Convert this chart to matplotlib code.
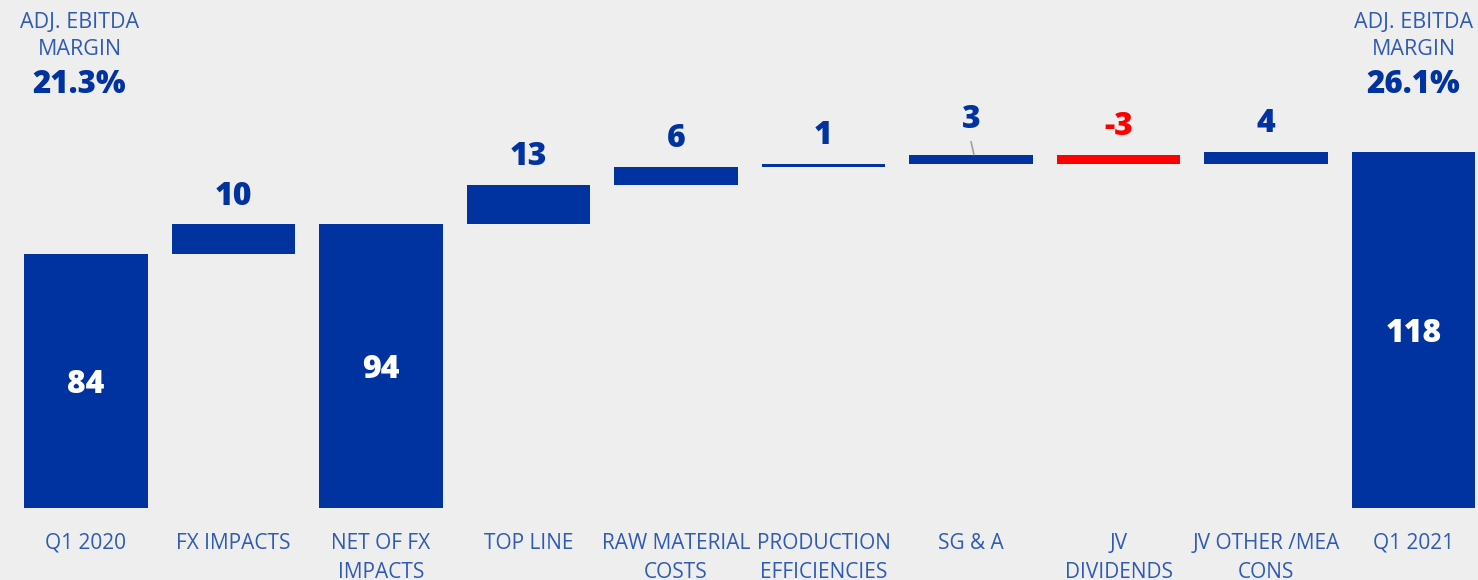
import numpy as np
import matplotlib.pyplot as plt

plt.rcParams['font.family'] = ['Open Sans', 'DejaVu Sans']

categories = ['Q1 2020', 'FX IMPACTS', 'NET OF FX\nIMPACTS', 'TOP LINE', 'RAW MATERIAL\nCOSTS',
              'PRODUCTION\nEFFICIENCIES', 'SG & A', 'JV\nDIVIDENDS', 'JV OTHER /MEA\nCONS', 'Q1 2021']
values = [84, 10, 94, 13, 6, 1, 3, -3, 4, 118]
is_total = [True, False, True, False, False, False, False, False, False, True]
margin_labels = ['21.3%', '26.1%']

BLUE = '#0033A0'
TEXT_BLUE = '#2F5BB3'
RED = '#FF0000'
BG = '#EEEEEE'

fig = plt.figure(figsize=(14.78, 5.8), dpi=100, facecolor=BG)
ax = fig.add_axes([0, 0, 1, 1])
ax.set_facecolor(BG)
ax.set_xlim(-0.583, 9.437)
ax.set_ylim(-23.8, 168.2)
ax.axis('off')

x = np.arange(len(categories))
bottoms = []
running = 0
for v, tot in zip(values, is_total):
    if tot:
        bottoms.append(0)
        running = v
    else:
        bottoms.append(running if v >= 0 else running + v)
        running += v
heights = [abs(v) for v in values]
colors = [RED if v < 0 else BLUE for v in values]

ax.bar(x, heights, bottom=bottoms, width=0.84, color=colors)

for i, (v, tot) in enumerate(zip(values, is_total)):
    top = bottoms[i] + heights[i]
    if tot:
        ax.text(x[i], bottoms[i] + heights[i] / 2, str(v), ha='center', va='center_baseline',
                color='white', fontsize=23, fontweight='heavy')
    else:
        off = 19 if categories[i] == 'SG & A' else 14
        ax.annotate(str(v), (x[i], top), xytext=(0, off), textcoords='offset points',
                    ha='center', va='baseline', color=RED if v < 0 else BLUE,
                    fontsize=23, fontweight='heavy')
        if categories[i] == 'SG & A':
            ax.annotate('', (x[i] + 0.02, top), xytext=(x[i], top + 4.3),
                        arrowprops=dict(arrowstyle='-', color='#A0A0A0', lw=1.2,
                                        shrinkA=0, shrinkB=0))

# category labels
for i, lab in enumerate(categories):
    ax.text(x[i], -8.1, lab, ha='center', va='top', color=TEXT_BLUE,
            fontsize=15, linespacing=1.55)

# margin headers
for xi, m in zip([-0.044, 9.0], margin_labels):
    ax.text(xi, 158.9, 'ADJ. EBITDA', ha='center', va='baseline',
            color=TEXT_BLUE, fontsize=15.5)
    ax.text(xi, 150.0, 'MARGIN', ha='center', va='baseline',
            color=TEXT_BLUE, fontsize=15.5)
    ax.text(xi, 137.4, m, ha='center', va='baseline',
            color=BLUE, fontsize=22.5, fontweight='heavy')

fig.savefig('out.png', dpi=100, facecolor=BG)
